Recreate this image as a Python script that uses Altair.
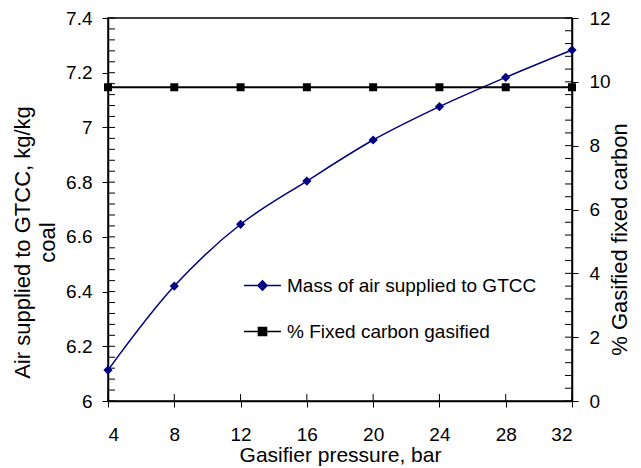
import altair as alt
import pandas as pd

# ---- data ----
pressure = [4, 8, 12, 16, 20, 24, 28, 32]
air_mass = [6.113, 6.420, 6.646, 6.804, 6.954, 7.076, 7.183, 7.283]
fixed_carbon = [9.83, 9.83, 9.83, 9.83, 9.83, 9.83, 9.83, 9.83]

s_air = "Mass of air supplied to GTCC"
s_fc = "% Fixed carbon gasified"
series_names = [s_air, s_fc]

x_ticks = [4, 8, 12, 16, 20, 24, 28, 32]
left_ticks = [6.0, 6.2, 6.4, 6.6, 6.8, 7.0, 7.2, 7.4]
right_ticks = [0, 2, 4, 6, 8, 10, 12]
left_minor = [round(6 + 0.04 * i, 2) for i in range(36)]
right_minor = [round(0.4 * i, 1) for i in range(31)]

W, H = 464, 383
FONT = "Liberation Sans"
NAVY = "#000080"

air_df = pd.DataFrame({"p": pressure, "v": air_mass})
fc_df = pd.DataFrame({"p": pressure, "v": fixed_carbon})
lminor_df = pd.DataFrame({"v": left_minor})
rminor_df = pd.DataFrame({"v": right_minor})
xt_df = pd.DataFrame({"p": x_ticks})
leg_df = pd.DataFrame({"series": series_names})

x_enc = alt.X("p:Q", scale=alt.Scale(domain=[4, 32], nice=False, zero=False),
              axis=alt.Axis(values=x_ticks, format="d", title="Gasifier pressure, bar",
                            tickSize=6, labelPadding=18, titlePadding=0,
                            titleFontSize=21, titleFontWeight="normal"))

left_axis = alt.Axis(values=left_ticks, format="~g", tickSize=6, labelPadding=10,
                     title=["Air supplied to GTCC, kg/kg", "coal"],
                     titleFontSize=22, titleFontWeight="normal", titlePadding=6,
                     titleLineHeight=25, titleY=224)
right_axis = alt.Axis(values=right_ticks, format="d", orient="right", tickSize=6,
                      labelPadding=11, title="%  Gasified fixed carbon",
                      titleFontSize=22, titleFontWeight="normal", titleAngle=270,
                      titlePadding=21, titleY=221)

yL = alt.Y("v:Q", scale=alt.Scale(domain=[6, 7.4], nice=False, zero=False), axis=left_axis)
yR = alt.Y("v:Q", scale=alt.Scale(domain=[0, 12], nice=False, zero=False), axis=right_axis)

col_scale = alt.Scale(domain=series_names, range=[NAVY, "black"])
shape_scale = alt.Scale(domain=series_names, range=[
    "M-1,0H1M0,-0.25L0.25,0L0,0.25L-0.25,0Z",
    "M-1,0H1M-0.22,-0.22H0.22V0.22H-0.22Z"])

legend = alt.Legend(
    orient="none", legendX=135, legendY=248, title=None,
    labelFontSize=19, labelFont=FONT, labelColor="black", labelLimit=500,
    symbolSize=1369, symbolStrokeWidth=1.5, rowPadding=16, labelOffset=5)

air_line = alt.Chart(air_df).mark_line(interpolate="catmull-rom", strokeWidth=1.5, color=NAVY).encode(
    x=x_enc, y=yL)
air_pts = alt.Chart(air_df).mark_point(filled=True, size=85, opacity=1, shape="diamond",
                                       color=NAVY).encode(x=x_enc, y=yL)
l_minor = alt.Chart(lminor_df).mark_rule(color="black", strokeWidth=1).encode(
    y=yL, x=alt.value(0), x2=alt.value(7))
x_inner = alt.Chart(xt_df).mark_rule(color="black", strokeWidth=1).encode(
    x=x_enc, y=alt.value(H - 7), y2=alt.value(H))

fc_line = alt.Chart(fc_df).mark_line(strokeWidth=2, color="black").encode(x=x_enc, y=yR)
fc_pts = alt.Chart(fc_df).mark_point(filled=True, size=64, opacity=1, shape="square",
                                     color="black").encode(x=x_enc, y=yR)
r_minor = alt.Chart(rminor_df).mark_rule(color="black", strokeWidth=1).encode(
    y=yR, x=alt.value(W - 7), x2=alt.value(W))

leg_layer = alt.Chart(leg_df).mark_point(filled=True, opacity=1, strokeWidth=1.5).encode(
    fill=alt.Fill("series:N", scale=col_scale, legend=legend),
    stroke=alt.Stroke("series:N", scale=col_scale, legend=legend),
    shape=alt.Shape("series:N", scale=shape_scale, legend=legend),
).transform_filter("false")

left_group = alt.layer(l_minor, x_inner, air_line, air_pts)
right_group = alt.layer(r_minor, fc_line, fc_pts, leg_layer)

chart = alt.layer(left_group, right_group).resolve_scale(y="independent").properties(
    width=W, height=H,
    autosize=alt.AutoSizeParams(type="none"),
    padding={"left": 108, "top": 18, "right": 69, "bottom": 67},
    background="white"
).configure_view(stroke="black", strokeWidth=1.5).configure_axis(
    domainColor="black", domainWidth=1.5, tickColor="black", tickWidth=1,
    labelFont=FONT, labelFontSize=19, labelColor="black",
    titleFont=FONT, titleColor="black", grid=False
)

chart.save("out.html", embed_options={"renderer": "svg", "actions": False})
